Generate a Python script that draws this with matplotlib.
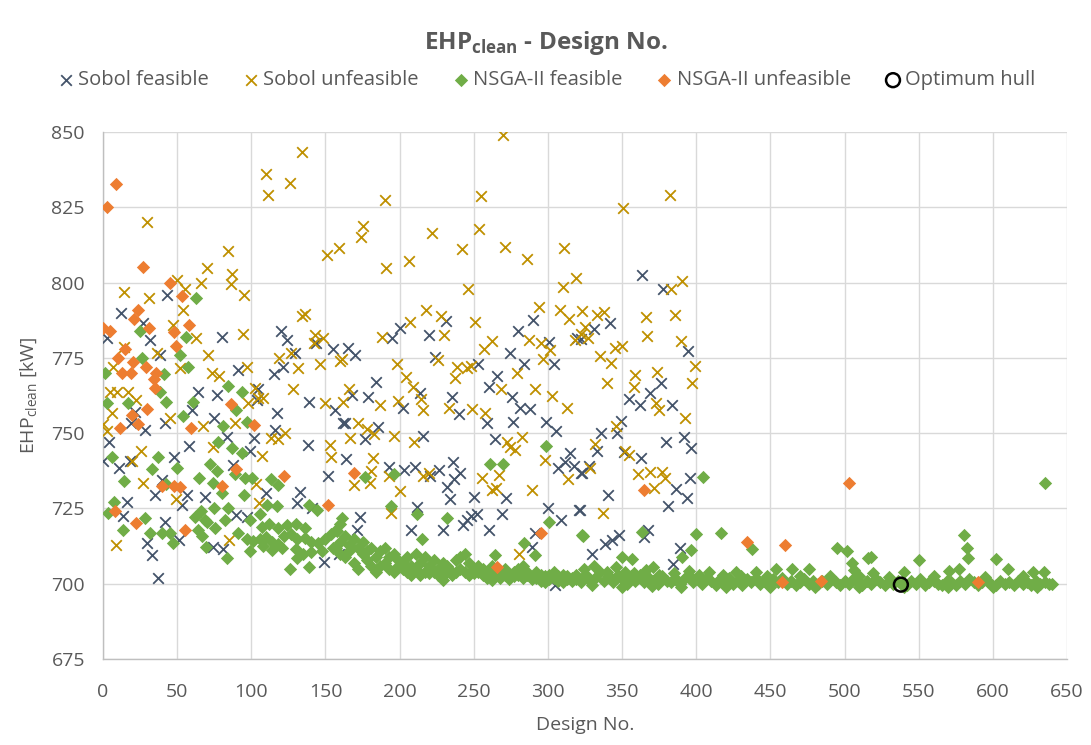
import matplotlib
matplotlib.use('Agg')
import matplotlib.pyplot as plt

plt.rcParams['font.family'] = ['Open Sans', 'DejaVu Sans']
plt.rcParams['mathtext.fontset'] = 'custom'
plt.rcParams['mathtext.rm'] = 'Open Sans'
plt.rcParams['mathtext.bf'] = 'Open Sans:bold'

TXT = '#595959'

# (design no., EHP_clean [kW])
sobol_feasible = [
    (43, 796), (12, 790), (27, 786.5), (3, 781.6), (32, 781), (80, 782), (120, 784), (124, 781),
    (129.6, 776.6), (143.6, 780), (155, 778), (38.5, 776), (91, 771), (115, 769.6), (121.5, 772),
    (104.6, 764.6), (64, 763.7), (77, 762.7),
    (60, 757.7), (21.6, 757), (19, 753.5), (28, 751), (42, 753.3), (75, 755), (83.5, 748.8),
    (101.5, 748.3), (103.7, 761), (117, 756.8), (116, 751), (138, 746), (138.6, 760.4), (156.6, 757.7),
    (162, 753.3), (4, 746.9), (0.2, 740.7), (11, 738.3), (18, 740.7), (58, 745.7), (48, 742), (99, 744),
    (87.5, 739.4), (152, 735.8), (35, 729.4), (39.6, 734.4), (56.5, 729.4), (53.5, 726), (69, 728.7),
    (16, 727.2), (13.7, 722.5), (42, 720.6), (29.5, 713.4), (33, 709.5), (37, 701.8), (51.5, 714.5),
    (81, 711.4), (74, 712.3), (90, 722.8), (97, 722.3), (110, 730.2), (133, 730.5), (130.7, 726.7),
    (141, 725), (148.7, 707.3), (159, 710),
    (165, 778.2), (170, 776), (200.5, 785), (195, 781.5), (231, 787.3), (220, 782.6), (223.6, 775.2),
    (253, 772.9), (274.7, 776.5), (290, 787.6), (279.7, 783.9), (301, 780.4), (304, 772.9),
    (283.7, 773), (319.7, 781.5), (266, 769), (260.5, 765.2), (184, 767), (179, 762.1), (168, 762.7),
    (214, 763.2), (235, 762.1), (276, 762.1),
    (202, 758.2), (240, 756.3), (259, 753.3), (276.5, 753.6), (281.5, 758.2), (287.7, 757.9),
    (298.8, 753.8), (305.6, 750.8), (163.3, 753.3), (185.4, 752.2), (176.4, 748), (216, 749), (264, 748),
    (164, 741.4), (193, 738.7), (202.7, 737.8), (210.6, 738.7), (220.7, 735.8), (226.8, 737.8),
    (235.8, 740.5), (241, 736.7), (236.5, 734.7), (232, 732), (234.2, 728), (250, 728.9), (271.8, 728.4),
    (306.8, 738.5), (311.8, 740.5), (315, 743.5), (317.5, 739), (323, 736.8), (173, 722.3), (171, 717.8),
    (211.7, 725.4), (208, 717.8), (229, 718), (243, 719.5), (245.5, 721), (248.4, 722.5), (252, 723),
    (260, 718), (269, 723), (300, 725), (309, 721), (320.8, 724.5), (291, 716.8), (289.4, 712.3),
    (305, 699.5),
    (363.6, 802.5), (377.5, 797.9), (341.7, 786.7), (331, 784.5), (322, 781.2), (394.6, 777.4),
    (376, 766.6), (369, 763.2),
    (354.6, 761.3), (362, 759.3), (383.8, 759.3), (349, 754), (346.7, 750), (335.5, 750.1), (332.8, 744),
    (379.3, 747.1), (391.7, 748.8), (396.7, 745.2), (362.5, 741.6), (351.2, 743.8), (322.6, 736.7),
    (327.6, 739.1), (395.5, 735), (386.5, 731.4), (394, 728.4), (340.6, 729.4), (381, 725.8),
    (321.3, 724.5), (367.6, 718), (364.7, 715.6), (347.8, 716.2), (343.3, 714.5), (338.8, 713.2),
    (329.4, 709.9), (388.8, 711.8), (384.3, 706.5),
]

sobol_unfeasible = [
    (134, 843.5), (110, 836), (126, 833), (111, 829), (30, 820), (151, 809), (159, 811.5), (84, 810.6),
    (70, 805), (87, 803), (86, 799.5), (50, 801), (66, 800), (55, 798), (95, 796), (14, 797), (31, 795),
    (54, 791), (134, 789), (136, 789.5), (47, 786), (94.6, 783), (63, 781.6), (143, 782.5), (142, 780),
    (148.5, 781.6), (14, 778.6), (36.5, 776.6), (71, 776), (119, 775), (127, 776.6), (131.6, 771.6),
    (146, 773), (160, 774), (97, 772), (73.6, 770), (78, 769), (52, 771.6), (7, 772), (128, 764.6),
    (102.6, 765), (5, 763.7), (9.5, 763.7), (17, 763.7), (22, 761),
    (6.3, 756.8), (0.2, 753), (2.5, 750.7), (45, 755), (67.7, 752.4), (89, 753.3), (98, 760),
    (104.6, 761.6), (108, 761.6), (25.6, 744), (19.8, 740.7), (74, 745.5), (107, 742.4), (113.4, 748.3),
    (118, 748), (123, 750), (27, 733.5), (49, 728.3), (103, 733), (105, 726.7), (9, 712.8), (85, 714.5),
    (150, 760), (152.8, 746), (154, 742),
    (269.8, 849), (190, 827.4), (255, 828.7), (175, 818.8), (174, 815.2), (221.8, 816.4), (253.8, 817.7),
    (190.8, 805), (206, 807.3), (242, 811), (271, 811.7), (286, 807.7), (310.7, 811.4), (246, 797.9),
    (319, 801.6), (310, 798.4), (218, 791), (228, 788.9), (207, 787), (294, 792), (308, 791),
    (314.5, 787.9), (323, 790.6), (251, 786.8), (188, 781.8), (229.7, 782.6), (256.7, 777.8),
    (262, 780.6), (287, 781), (295.6, 780), (301.7, 777.6), (297, 774.5), (318, 781), (322, 783),
    (161, 774.5), (198, 773), (204, 768.5), (208.8, 765.4), (226, 774.3), (238.7, 771.9),
    (245.5, 771.5), (248.4, 772.3), (237.6, 768.2), (279, 770), (166, 764.8), (268.5, 764.5),
    (291.6, 764.5),
    (161.5, 760.4), (187, 759.3), (199, 760.7), (214.6, 761.3), (215.5, 757.7), (233, 758.2),
    (248.8, 757.9), (257.4, 756.8), (302.8, 762.3), (313, 758.2), (172, 753.3), (178, 751.3),
    (183, 749.6), (166.7, 748.3), (196, 749), (210, 747.1), (272.5, 747.1), (274.7, 745.3), (278, 744.4),
    (282.6, 748.8), (298, 741), (182, 741.8), (180.7, 737.4), (180, 733.5), (192.6, 735.8), (169, 732.8),
    (200.5, 730.9), (216, 735.8), (219.6, 736.7), (255.6, 735), (266.8, 736), (262.3, 731.1),
    (265, 731.7), (289, 731.1), (313.7, 734.7), (194.4, 723.4), (280.8, 710),
    (382, 829), (350.8, 824.9), (390.6, 800.6), (382.7, 798), (333, 789.4), (337.7, 790.3),
    (365.8, 788.5), (385.6, 789.4), (325, 785.3), (327, 781.5), (366.5, 782.2), (345, 778.4), (350, 779),
    (390, 780.7), (334.8, 775.6), (342.7, 773.4), (399, 772.4), (359, 769.3), (373.7, 770.4), (340, 766.6),
    (397.4, 766.8), (358, 765.4),
    (372.6, 759.9), (374.8, 757.7), (392.4, 754.9), (345.6, 752.4), (332, 746.4), (352, 744),
    (354.6, 742.7), (328.3, 738.3), (360.9, 736.3), (369, 737.2), (376.6, 737.2), (378.9, 735),
    (371.5, 731.9), (337, 723.4),
]

nsga_feasible = [
    (63, 795), (25, 784), (56, 782), (52, 776), (57, 772), (26, 775), (1.3, 770), (41, 769.6), (84, 765.7),
    (94, 763.7), (38.5, 763.7),
    (3, 760), (17, 760), (42.5, 760.4), (60.5, 760.4), (90, 757.7), (54, 755.7), (81, 752.4), (97, 753.8),
    (77.6, 747), (87, 745), (93.6, 743.5), (6, 742), (37, 742), (50, 738.5), (33, 738), (14, 734),
    (72, 739.7), (77, 737.4), (65, 735), (89, 736.3), (96, 735), (100.6, 735), (74, 733.3), (113, 734.8),
    (118, 732.8), (42.5, 733), (80, 730), (95, 729.4), (7.4, 727), (3.6, 723.6), (28, 721.7),
    (13.7, 717.8), (32, 717), (39.6, 717), (45, 716.8), (47, 713.6), (62, 722), (66, 724), (70, 720.5),
    (75, 725), (64, 718), (69, 721), (84.6, 725), (82, 721), (75.6, 718.4), (67, 716), (69.5, 712.3),
    (83.5, 708.4), (91, 716.8), (99, 721), (106, 723), (110.5, 726), (117, 725.8), (107, 719), (112, 720),
    (118, 718.5), (124, 719.6), (130, 720), (136, 718.5),
    (97, 715), (101, 714.2), (106, 714.8), (110, 715.6), (114, 714), (118, 713.2), (122, 715.8),
    (127, 716.5), (131, 714.8), (136, 715.3), (140, 714), (145, 713.5), (150, 715), (154, 716.5),
    (158, 717.5), (99, 711), (108, 712.5), (114, 711.2), (121, 712), (130, 711.5), (135, 709.8),
    (140, 710.5), (148, 711), (155, 712), (160, 710), (126, 705), (138.6, 705.7), (130.7, 708.4),
    (144, 724.5), (138.6, 726), (161, 721.7),
    (298.8, 745.8), (260.8, 739.6), (269.8, 739.6), (176.5, 735.5), (196, 736.3), (194.4, 725.8),
    (211.7, 723), (232, 721.7), (300.6, 720.6), (323, 716.2), (283.7, 713.4), (291.6, 709.5),
    (264, 709.5), (215, 715),
    # dense band 157-322
    (157, 718), (157, 712), (160, 720), (160, 714), (163, 716), (163, 709), (166, 713), (166, 711),
    (169, 715), (169, 707), (172, 712), (172, 705), (175, 710), (175, 714), (178, 708), (178, 711),
    (181, 712), (181, 706), (184, 709), (184, 704), (187, 711), (187, 706), (190, 707), (190, 712),
    (193, 705), (193, 709), (196, 710), (196, 704), (199, 708), (199, 706), (202, 707), (202, 705),
    (205, 709), (205, 704), (208, 706), (208, 703), (211, 710), (211, 705), (214, 707), (214, 703),
    (217, 709), (217, 704), (220, 706), (220, 703.5), (223, 708), (223, 704), (226, 705), (226, 703),
    (229, 707), (229, 701.4), (232, 706), (232, 704), (235, 704), (235, 703), (238, 708), (238, 704),
    (241, 709), (241, 705), (244, 710), (244, 704), (247, 707), (247, 703), (250, 705), (250, 703.5),
    (253, 704), (253, 706), (256, 705), (256, 703), (259, 704), (259, 702), (262, 706), (262, 701.2),
    (265, 703), (265, 705), (268, 704), (268, 702), (271, 705), (271, 703), (274, 703), (274, 701.5),
    (277, 704), (277, 702.5), (280, 705), (280, 703), (283, 702), (283, 706), (286, 703), (286, 704),
    (289, 702), (289, 701.5), (292, 704), (292, 702), (295, 701), (295, 703), (298, 702.5), (298, 700.5),
    (301, 703), (301, 701.5), (304, 702), (304, 704), (307, 701), (307, 702.5), (310, 703), (310, 700.5),
    (313, 701.5), (313, 702.5), (316, 702), (316, 700.8), (319, 703), (319, 701.5), (322, 701.5),
    (322, 700.5),
    # outliers right part
    (404.8, 735.5), (323.8, 716), (363.6, 717.3), (399.6, 716.4), (416.5, 716.7), (437.4, 711.4),
    (396.2, 711.2), (390.6, 709), (350, 709), (356.8, 708.2), (370.8, 705.7), (453.6, 705), (464.8, 704.8),
    (476, 705), (408.6, 704), (426.6, 704), (440, 704),
    (635.2, 733.6), (580.3, 716.2), (582.5, 712), (583.4, 708.4), (495.2, 712), (501.5, 711),
    (505.3, 706.8), (506.5, 704.5), (515.5, 708.4), (517.7, 708.9), (519.3, 703.6), (540.2, 704),
    (550, 708), (570.6, 704.2), (577.4, 705), (602, 708.2), (610, 705), (627.3, 704), (634.7, 704),
    # flat band 323-640
    (323, 701.5), (326, 703), (329, 700.5), (332, 702), (335, 704), (338, 701), (341, 702.5),
    (344, 700.5), (347, 703), (350, 701.5), (353, 700), (356, 702.5), (359, 701), (362, 703),
    (365, 700.5), (368, 702), (371, 701), (374, 700), (377, 702.5), (380, 701), (383, 700.5), (386, 702),
    (389, 700), (392, 701.5), (395, 703), (398, 700.5), (401, 701.5), (404, 700), (407, 702), (410, 701),
    (413, 699.5), (416, 701.5), (419, 700.5), (422, 702), (425, 700), (428, 701), (431, 699.5),
    (434, 701.5), (437, 700.5), (440, 702), (443, 700), (446, 701), (449, 699.5), (452, 701.5),
    (455, 700.5), (458, 702), (461, 700), (464, 701), (467, 699.5), (470, 700.5), (473, 701.5),
    (476, 700), (479, 701), (482, 699.8), (485, 701), (488, 700), (491, 701.5), (494, 700.5),
    (497, 699.5), (500, 701), (503, 700), (506, 701.5), (509, 700.5), (512, 699.5), (515, 701),
    (518, 700), (521, 701.5), (524, 700.5), (527, 699.5), (530, 701), (533, 700), (536, 701),
    (539, 700.5), (542, 699.5), (545, 701), (548, 700), (551, 701.5), (554, 699.5), (557, 700.5),
    (560, 701), (563, 700), (566, 699.5), (569, 701), (572, 700.5), (575, 699.5), (578, 701), (581, 700),
    (584, 701.5), (587, 700.5), (590, 699.5), (593, 700.5), (596, 701), (599, 700), (602, 699.5),
    (605, 701), (608, 700), (611, 700.5), (614, 699.5), (617, 701), (620, 700), (623, 700.5),
    (626, 699.5), (629, 701), (632, 700), (635, 700.5), (638, 700), (640, 699.8),
    (324, 705), (331, 706), (340, 704), (346, 705.5), (352, 704), (358, 703.5), (366, 704.5), (375, 703),
    (385, 703.5), (395, 704.2), (402, 703), (418, 703), (430, 702.5), (448, 702.5), (470, 702.5),
    (490, 702.5), (510, 702.5), (530, 702.3), (560, 702.5), (595, 702.3), (620, 702.5),
    (330, 699.5), (350, 699), (370, 699.2), (390, 699), (420, 698.8), (450, 699), (480, 698.8),
    (510, 699), (540, 698.8), (570, 698.9), (600, 699), (630, 699),
]

nsga_unfeasible = [
    (9, 832.6), (2.5, 825), (27, 805.3), (45, 800), (53, 795.7), (23.7, 791), (21, 788), (0, 785), (5, 784),
    (31, 785), (58, 786), (48, 783.6), (49, 779), (15, 778), (10, 775), (20, 773.7), (29, 772),
    (12.6, 770), (18.7, 770), (36, 770), (34.6, 768), (35, 765),
    (30, 758), (19.4, 756), (23.4, 753), (11.5, 751.6), (59.4, 751.8), (86.4, 759.7), (102, 752.7),
    (90, 738), (122, 735.8), (40, 732.4), (48, 732.6), (52, 732), (80, 732.4), (8, 724), (22, 720.3),
    (55, 718), (152, 726), (169, 736.9), (295, 717), (266, 705.7),
    (364.7, 731.1), (434.5, 714), (459.7, 713), (457.6, 700.5), (503, 733.3), (484, 700.9), (590, 700.7),
]

optimum = [(538, 699.7)]

x_ticks = list(range(0, 651, 50))
y_ticks = [675, 700, 725, 750, 775, 800, 825, 850]

fig = plt.figure(figsize=(10.91, 7.45), dpi=100)
ax = fig.add_axes([0.0944, 0.1154, 0.8836, 0.7074])


def xy(pts):
    return [p[0] for p in pts], [p[1] for p in pts]


x, y = xy(sobol_feasible)
ax.scatter(x, y, marker='x', s=58, color='#44546A', linewidths=1.3, label='Sobol feasible', zorder=3)
x, y = xy(sobol_unfeasible)
ax.scatter(x, y, marker='x', s=58, color='#BF9000', linewidths=1.3, label='Sobol unfeasible', zorder=3)
x, y = xy(nsga_feasible)
ax.scatter(x, y, marker='D', s=46, color='#70AD47', linewidths=0, label='NSGA-II feasible', zorder=4)
x, y = xy(nsga_unfeasible)
ax.scatter(x, y, marker='D', s=46, color='#ED7D31', linewidths=0, label='NSGA-II unfeasible', zorder=5)
x, y = xy(optimum)
ax.scatter(x, y, marker='o', s=100, facecolors='none', edgecolors='black', linewidths=1.8,
           label='Optimum hull', zorder=6)

ax.set_xlim(0, 650)
ax.set_ylim(675, 850)
ax.set_xticks(x_ticks)
ax.set_yticks(y_ticks)
ax.grid(True, color='#D9D9D9', linewidth=1.0, zorder=0)
ax.set_axisbelow(True)
for side in ['top', 'right']:
    ax.spines[side].set_visible(False)
for side in ['left', 'bottom']:
    ax.spines[side].set_color('#BFBFBF')
    ax.spines[side].set_linewidth(1.0)
ax.tick_params(axis='both', length=0, labelsize=14, labelcolor=TXT)
ax.tick_params(axis='x', pad=17)
ax.tick_params(axis='y', pad=13)

ax.set_xlabel('Design No.', fontsize=14, color=TXT, labelpad=11)
fig.text(0.026, 0.47, r'EHP$_{\mathrm{clean}}$ [kW]', rotation=90, fontsize=14, color=TXT,
         ha='center', va='center')
fig.text(0.5, 0.942, r'EHP$_{\mathbf{clean}}$ - Design No.', fontsize=17.5, fontweight='bold', color=TXT,
         ha='center', va='center')

leg = fig.legend(loc='center', bbox_to_anchor=(0.5, 0.892), ncol=5, frameon=False, fontsize=14.5,
                 handletextpad=0.1, columnspacing=1.6, handlelength=1.0, scatterpoints=1)
for t in leg.get_texts():
    t.set_color(TXT)

fig.savefig('out.png', dpi=100)
